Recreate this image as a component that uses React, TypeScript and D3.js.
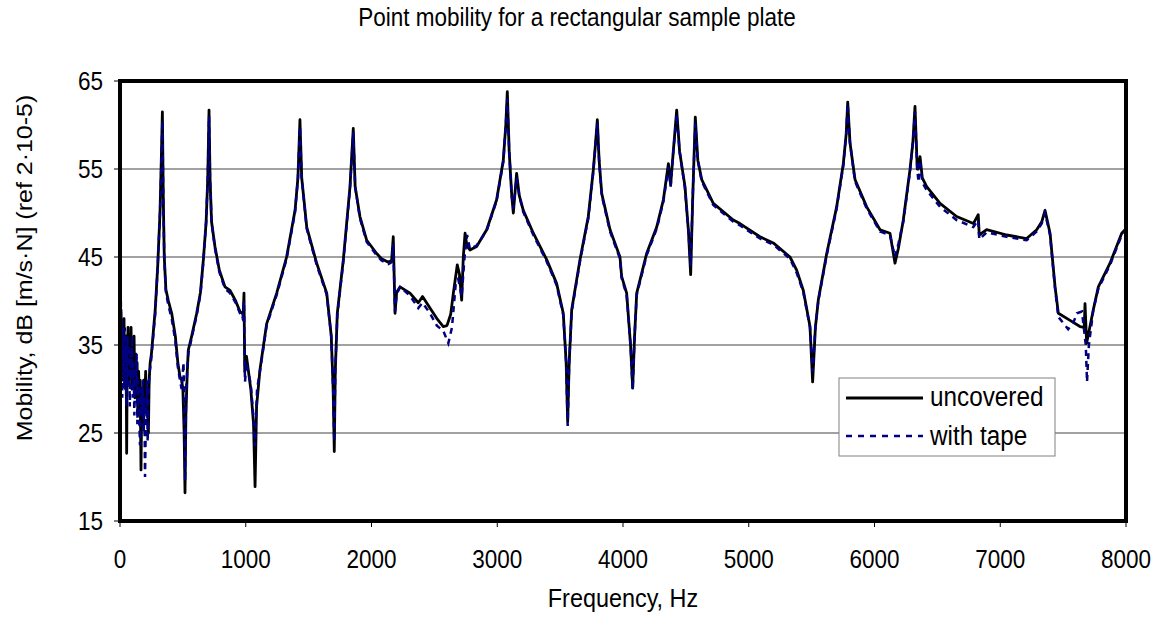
import React from 'react';
import * as d3 from 'd3';

const W = 1158;
const H = 619;
const margin = { top: 81, right: 32, bottom: 98, left: 120 };

const xTicks = [0, 1000, 2000, 3000, 4000, 5000, 6000, 7000, 8000];
const yTicks = [15, 25, 35, 45, 55, 65];

// uncovered plate: [frequency Hz, mobility dB]
const uncovered: [number, number][] = [
  [0, 43], [4, 36], [8, 39], [12, 33], [16, 37], [20, 31], [24, 36], [28, 34], [32, 38], [36, 32],
  [40, 35], [44, 30], [48, 36], [53, 22.7], [58, 34], [64, 37], [70, 31], [76, 36], [82, 33], [88, 37],
  [94, 30], [100, 35], [106, 32], [112, 36], [118, 29], [124, 34], [130, 31], [136, 33], [142, 27],
  [148, 32], [154, 29], [160, 31], [167, 20.8], [174, 30], [180, 26], [188, 31], [196, 28], [204, 32],
  [212, 27], [220, 30], [226, 25], [232, 31], [240, 33], [250, 34], [262, 36], [280, 39], [300, 44],
  [318, 50], [330, 57], [337, 61.5], [344, 52], [352, 45], [365, 41.3], [385, 40], [411, 38.6],
  [440, 36], [460, 33], [477, 31.4], [490, 31], [500, 30], [510, 25], [517, 18.2], [524, 27],
  [535, 32], [543, 34.4], [570, 36], [610, 38.6], [640, 41], [663, 44.7], [685, 49], [698, 54],
  [708, 61.7], [716, 54], [728, 49], [755, 46.2], [790, 43.5], [835, 41.6], [875, 41.2], [920, 40],
  [954, 38.8], [980, 38.5], [986, 40.9], [992, 32], [1006, 33.7], [1040, 30], [1062, 26],
  [1074, 18.9], [1086, 28], [1113, 32.2], [1166, 37.4], [1246, 40.9], [1325, 45], [1392, 50.3],
  [1415, 54], [1431, 60.6], [1445, 54], [1485, 48.4], [1564, 44.3], [1644, 40.9], [1680, 36],
  [1695, 30], [1704, 22.9], [1712, 32], [1728, 38.6], [1776, 44.7], [1829, 53], [1855, 59.6],
  [1870, 53], [1908, 49.6], [1962, 46.9], [2041, 45.4], [2080, 44.8], [2134, 44.4], [2160, 44.6],
  [2173, 47.3], [2187, 38.6], [2200, 41], [2227, 41.6], [2306, 40.9], [2372, 39.8], [2406, 40.5],
  [2465, 39.2], [2520, 38], [2571, 37.1], [2600, 37.2], [2630, 38.5], [2651, 40.9], [2682, 44.1],
  [2700, 43], [2717, 40.1], [2730, 45], [2744, 47.7], [2760, 46.2], [2783, 45.8], [2836, 46.2],
  [2916, 48.1], [2995, 51.5], [3048, 56], [3068, 60], [3080, 63.8], [3095, 57], [3115, 52],
  [3128, 50], [3154, 54.5], [3175, 52], [3207, 50.3], [3287, 47.7], [3393, 44.7], [3472, 42],
  [3525, 38.6], [3548, 33], [3560, 26.3], [3572, 33], [3592, 39], [3658, 44.7], [3724, 49.6],
  [3764, 54.9], [3782, 58], [3796, 60.6], [3810, 56], [3831, 52.2], [3897, 48.1], [3976, 45],
  [3989, 42.8], [4029, 40.9], [4060, 35], [4077, 30.1], [4092, 36], [4109, 40.9], [4188, 45.4],
  [4268, 48.4], [4321, 51.5], [4361, 55.6], [4379, 53.2], [4400, 57], [4427, 61.7], [4450, 57],
  [4493, 53], [4520, 48], [4538, 43], [4555, 52], [4575, 60.9], [4595, 56], [4626, 53.8],
  [4718, 51.1], [4877, 49.2], [4930, 48.8], [5089, 47.3], [5195, 46.6], [5328, 45], [5381, 43.5],
  [5434, 41.2], [5487, 37.1], [5508, 30.8], [5530, 37], [5553, 40.1], [5620, 45.4], [5699, 50.7],
  [5752, 55.6], [5775, 59], [5787, 62.6], [5805, 58], [5845, 53.8], [5938, 50.7], [6044, 48.1],
  [6123, 47.7], [6163, 44.3], [6190, 46], [6229, 49.2], [6282, 54.9], [6305, 58], [6322, 62.1],
  [6340, 55], [6348, 55], [6362, 56.4], [6380, 54], [6415, 53], [6521, 51.1], [6653, 49.6],
  [6786, 48.8], [6825, 49.8], [6833, 47.5], [6892, 48.1], [7051, 47.5], [7210, 47.1], [7290, 48.1],
  [7330, 49], [7356, 50.3], [7396, 47.7], [7436, 41.6], [7462, 38.6], [7555, 37.8], [7634, 37.1],
  [7668, 37], [7674, 39.7], [7687, 35.2], [7740, 39], [7780, 41.6], [7873, 44.3], [7966, 47.7],
  [8000, 48.2],
];

// plate with tape
const withTape: [number, number][] = [
  [0, 43], [3, 30], [6, 41], [10, 34], [14, 38], [18, 29], [22, 37], [26, 32], [30, 36], [34, 30],
  [38, 37], [42, 33], [46, 35], [50, 28], [55, 33], [60, 36], [66, 30], [72, 35], [78, 28], [84, 34],
  [90, 31], [96, 36], [102, 29], [108, 33], [114, 27], [120, 32], [126, 30], [132, 34], [138, 26],
  [144, 31], [150, 28], [159, 23.6], [166, 30], [172, 27], [180, 31], [188, 25], [194, 29], [199, 20],
  [206, 27], [214, 31], [220, 24], [228, 30], [236, 32], [246, 33], [258, 35], [270, 37], [280, 38.5],
  [300, 44], [318, 50], [330, 56], [337, 60.5], [344, 52], [352, 45], [365, 41], [385, 39.5],
  [411, 38], [440, 35.5], [460, 32.5], [477, 31], [490, 30], [505, 33], [512, 27], [518, 19.5],
  [526, 30], [543, 34], [570, 35.8], [610, 38.4], [640, 40.8], [663, 44.5], [685, 49], [698, 54],
  [708, 61], [716, 54], [728, 49], [755, 46], [790, 43.3], [835, 41.4], [875, 40.9], [920, 39.8],
  [954, 38.6], [975, 38], [986, 40], [994, 30.8], [1006, 33], [1040, 30.5], [1060, 27], [1074, 23.5],
  [1090, 30], [1113, 32], [1166, 37.2], [1246, 40.7], [1325, 44.8], [1392, 50.1], [1415, 54],
  [1431, 59.8], [1445, 54], [1485, 48.2], [1564, 44.1], [1644, 40.7], [1680, 36], [1695, 30],
  [1704, 24], [1712, 32], [1728, 38.4], [1776, 44.5], [1829, 52.8], [1855, 59.2], [1870, 53],
  [1908, 49.4], [1962, 46.7], [2041, 45.2], [2080, 44.6], [2134, 44.2], [2160, 44.4], [2173, 46.5],
  [2187, 38.8], [2200, 40.8], [2227, 41.6], [2306, 40.6], [2372, 39.2], [2406, 39.8], [2465, 38.6],
  [2520, 37.2], [2571, 36.6], [2611, 35.2], [2640, 37], [2670, 42], [2690, 42.5], [2717, 40.5],
  [2740, 45], [2760, 47.5], [2783, 45.9], [2836, 46.3], [2916, 48], [2995, 51.4], [3048, 55.8],
  [3068, 60], [3080, 63], [3095, 57], [3115, 52], [3128, 50.5], [3154, 54], [3175, 52], [3207, 50.1],
  [3287, 47.5], [3393, 44.5], [3472, 41.8], [3525, 38.4], [3548, 33], [3560, 25.8], [3572, 33],
  [3592, 38.8], [3658, 44.5], [3724, 49.4], [3764, 54.7], [3782, 58], [3796, 60.2], [3810, 56],
  [3831, 52], [3897, 47.9], [3976, 44.8], [3989, 42.6], [4029, 40.7], [4060, 35], [4077, 29.9],
  [4092, 36], [4109, 40.7], [4188, 45.2], [4268, 48.2], [4321, 51.3], [4361, 55.2], [4379, 53],
  [4400, 57], [4427, 61.2], [4450, 57], [4493, 52.8], [4520, 48], [4538, 44], [4555, 52],
  [4575, 60.2], [4595, 56], [4626, 53.6], [4718, 50.9], [4877, 49], [4930, 48.6], [5089, 47.1],
  [5195, 46.4], [5328, 44.8], [5381, 43.2], [5434, 41], [5487, 37], [5508, 32], [5530, 37],
  [5553, 40], [5620, 45.2], [5699, 50.5], [5752, 55.4], [5775, 59], [5787, 62.4], [5805, 58],
  [5845, 53.6], [5938, 50.5], [6044, 47.9], [6123, 47.5], [6163, 45], [6190, 46.5], [6229, 49],
  [6282, 54.7], [6305, 58], [6322, 61.5], [6340, 55], [6350, 53.5], [6362, 56], [6380, 53.5],
  [6415, 52.6], [6521, 50.7], [6653, 49.2], [6786, 48.4], [6825, 49.2], [6833, 47], [6892, 47.8],
  [7051, 47.3], [7210, 46.9], [7290, 47.9], [7330, 48.8], [7356, 50], [7396, 47.5], [7436, 41.4],
  [7462, 38.2], [7500, 37.5], [7540, 36.8], [7580, 37.5], [7610, 38.6], [7650, 38.8], [7680, 35],
  [7690, 30.8], [7705, 35], [7740, 39], [7780, 41.4], [7873, 44.1], [7966, 47.5], [8000, 48],
];

const FS = 25;   // font size of the labels
const SQ = 0.9;  // the picture is a bit narrower than tall

// horizontally squeezed text
function Txt(props: { x: number; y: number; anchor?: string; size?: number; children: React.ReactNode }) {
  const { x, y, anchor = 'start', size = FS, children } = props;
  return (
    <text transform={`translate(${x},${y}) scale(${SQ},1)`} textAnchor={anchor} fontSize={size} fill="#000">
      {children}
    </text>
  );
}

export default function App() {
  const innerW = W - margin.left - margin.right;
  const innerH = H - margin.top - margin.bottom;

  const x = d3.scaleLinear().domain([0, 8000]).range([0, innerW]);
  const y = d3.scaleLinear().domain([15, 65]).range([innerH, 0]);

  const line = d3
    .line<[number, number]>()
    .x((d) => x(d[0]))
    .y((d) => y(d[1]));

  const font = 'Arial, "Liberation Sans", sans-serif';

  return (
    <div style={{ position: 'absolute', left: 0, top: 0 }}>
      <svg width={W} height={H} style={{ display: 'block', fontFamily: font }}>
        <rect width={W} height={H} fill="#fff" />
        <Txt x={577} y={26} anchor="middle">Point mobility for a rectangular sample plate</Txt>
        <g transform={`translate(${margin.left},${margin.top})`}>
          {yTicks.slice(1, -1).map((t) => (
            <line key={t} x1={0} x2={innerW} y1={y(t)} y2={y(t)} stroke="#444" strokeWidth={1} />
          ))}
          {yTicks.map((t) => (
            <g key={t}>
              <line x1={-6} x2={0} y1={y(t)} y2={y(t)} stroke="#000" />
              <Txt x={-17} y={y(t) + 9} anchor="end">{t}</Txt>
            </g>
          ))}
          {xTicks.map((t) => (
            <g key={t}>
              <line x1={x(t)} x2={x(t)} y1={innerH} y2={innerH + 6} stroke="#000" />
              <Txt x={x(t)} y={innerH + 47} anchor="middle">{t}</Txt>
            </g>
          ))}
          <path d={line(uncovered) || ''} fill="none" stroke="#000" strokeWidth={2.8} strokeLinejoin="round" />
          <path d={line(withTape) || ''} fill="none" stroke="#000080" strokeWidth={2.5} strokeDasharray="6,5" />
          <rect x={0} y={0} width={innerW} height={innerH} fill="none" stroke="#000" strokeWidth={4} />
          <g transform={`translate(${839 - margin.left},${378 - margin.top})`}>
            <rect width={216} height={78} fill="#fff" stroke="#808080" strokeWidth={1} />
            <line x1={7} x2={84} y1={20} y2={20} stroke="#000" strokeWidth={2.8} />
            <Txt x={91} y={28} size={27}>uncovered</Txt>
            <line x1={7} x2={84} y1={58} y2={58} stroke="#000080" strokeWidth={2.5} strokeDasharray="6,6" />
            <Txt x={91} y={67} size={27}>with tape</Txt>
          </g>
        </g>
        <Txt x={623} y={607} anchor="middle" size={26}>Frequency, Hz</Txt>
        <text
          transform={`translate(32,268) rotate(-90) scale(1,${SQ})`}
          textAnchor="middle"
          fontSize={FS}
          fill="#000"
        >
          Mobility, dB [m/s·N] (ref 2·10-5)
        </text>
      </svg>
    </div>
  );
}
